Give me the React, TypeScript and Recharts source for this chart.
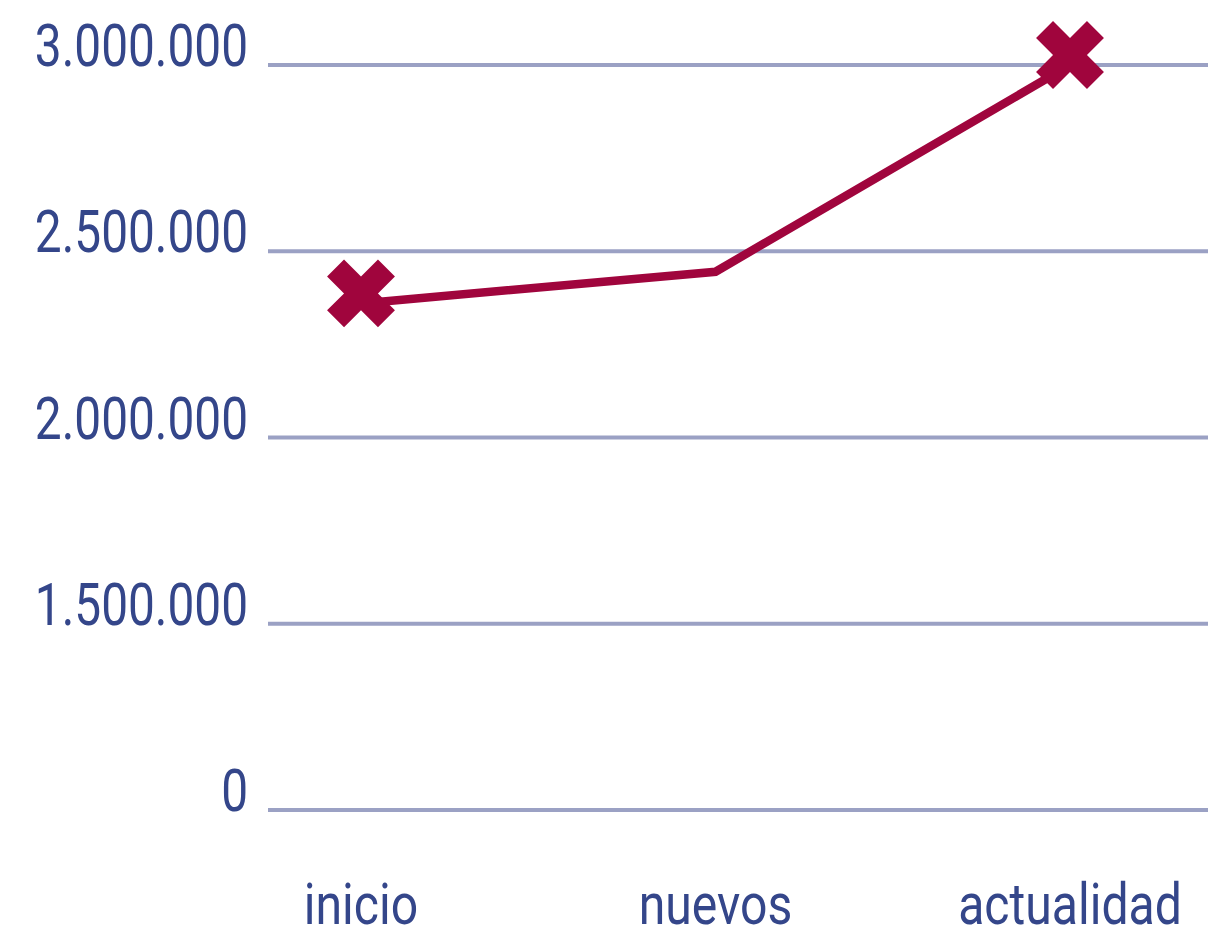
import React from 'react';
import { LineChart, Line, XAxis, YAxis, CartesianGrid } from 'recharts';

// Three moments, one series. The y axis is broken: the bottom step
// jumps from 0 straight to 1.500.000, so the "0" label sits where
// 1.000.000 would be on a linear scale.
const categories = ['inicio', 'nuevos', 'actualidad'];
const values = [2360000, 2445000, 3000000];

const yTickValues = [1000000, 1500000, 2000000, 2500000, 3000000];
const yTickLabels = ['0', '1.500.000', '2.000.000', '2.500.000', '3.000.000'];

const data = categories.map((name, i) => ({ name, value: values[i] }));

const TEXT = '#34468a';
const GRID = '#9ba1c4';
const LINE = '#a0053d';
const FONT = 'Roboto, "Noto Sans", sans-serif';

const YTick = (props: any) => {
  const { x, y, payload } = props;
  const idx = yTickValues.indexOf(payload.value);
  return (
    <g transform={`translate(${x - 20},${y + 1})`}>
      <text
        transform="scale(0.81,1)"
        textAnchor="end"
        fill={TEXT}
        fontFamily={FONT}
        fontSize={59}
      >
        {yTickLabels[idx]}
      </text>
    </g>
  );
};

const XTick = (props: any) => {
  const { x, y, payload } = props;
  return (
    <g transform={`translate(${x},${y + 114})`}>
      <text
        transform="scale(0.83,1)"
        textAnchor="middle"
        fill={TEXT}
        fontFamily={FONT}
        fontSize={58}
      >
        {payload.value}
      </text>
    </g>
  );
};

// thick diagonal cross, drawn only on the first and last point
const CrossDot = (props: any) => {
  const { cx, cy, index } = props;
  if (index === 1 || cx == null) return <g key={`dot-${index}`} />;
  const w = 12;
  const l = 36;
  const pts = [
    [-w, -l], [w, -l], [w, -w], [l, -w], [l, w], [w, w],
    [w, l], [-w, l], [-w, w], [-l, w], [-l, -w], [-w, -w],
  ]
    .map(([px, py]) => `${px},${py}`)
    .join(' ');
  return (
    <polygon
      key={`dot-${index}`}
      points={pts}
      fill={LINE}
      transform={`translate(${cx},${cy - 10}) rotate(45)`}
    />
  );
};

export default function App() {
  return (
    <div style={{ position: 'absolute', left: 0, top: 0, background: '#fff' }}>
      <LineChart
        width={1208}
        height={939}
        data={data}
        margin={{ top: 65, right: 0, bottom: 0, left: 0 }}
      >
        <CartesianGrid horizontal vertical={false} stroke={GRID} strokeWidth={4} />
        <XAxis
          dataKey="name"
          scale="point"
          padding={{ left: 93, right: 138 }}
          axisLine={false}
          tickLine={false}
          tickSize={0}
          tickMargin={0}
          height={129}
          tick={<XTick />}
        />
        <YAxis
          type="number"
          domain={[1000000, 3000000]}
          ticks={yTickValues}
          axisLine={false}
          tickLine={false}
          tickSize={0}
          tickMargin={0}
          width={268}
          tick={<YTick />}
        />
        <Line
          type="linear"
          dataKey="value"
          stroke={LINE}
          strokeWidth={8.5}
          dot={<CrossDot />}
          activeDot={false}
          isAnimationActive={false}
        />
      </LineChart>
    </div>
  );
}
